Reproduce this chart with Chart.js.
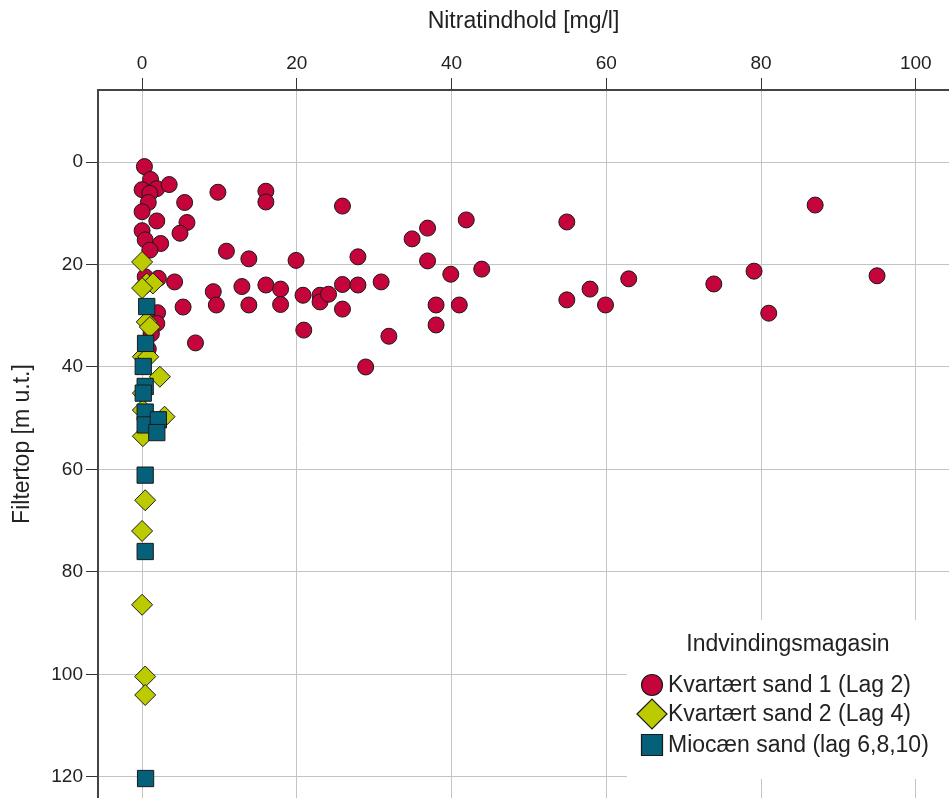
<!DOCTYPE html>
<html>
<head>
<meta charset="utf-8">
<script src="https://cdn.jsdelivr.net/npm/chart.js@4/dist/chart.umd.min.js"></script>
<style>
  html, body { margin: 0; padding: 0; background: #fff; }
  #wrap { width: 949px; height: 798px; }
</style>
</head>
<body>
<div id="wrap"><canvas id="nitratChart" width="949" height="798"></canvas></div>
<script>
// Kvartært sand 1 (Lag 2) - nitrat [mg/l] og filtertop [m u.t.]
const kvartaer1X = [0.3, 1.1, 0, 1.9, 3.5, 1.0, 0.8, 9.8, 16.0, 16.0, 5.5, 25.9, 87.0, 0, 1.9, 5.8,
  41.9, 54.9, 0, 4.9, 36.9, 34.9, 0.4, 2.4, 1.0, 10.9, 13.8, 19.9, 27.9, 36.9, 43.9, 39.9, 79.1,
  95.0, 62.9, 73.9, 2.1, 4.2, 0.4, 9.2, 9.6, 12.9, 13.8, 16.0, 17.9, 17.9, 20.8, 23.0, 23.0, 24.1,
  25.9, 25.9, 27.9, 30.9, 57.9, 54.9, 59.9, 38.0, 41.0, 81.0, 5.3, 2.0, 1.9, 20.9, 31.9, 38.0,
  6.9, 28.9, 0.8, 1.2];
const kvartaer1Y = [0.9, 3.4, 5.4, 5.2, 4.4, 6.1, 7.9, 5.9, 5.7, 7.8, 7.9, 8.6, 8.4, 9.7, 11.5, 11.8,
  11.3, 11.7, 13.4, 13.9, 12.9, 15.0, 15.2, 15.9, 17.2, 17.4, 18.9, 19.2, 18.5, 19.3, 20.9, 21.9, 21.3,
  22.2, 22.8, 23.8, 22.7, 23.4, 22.4, 25.3, 27.9, 24.3, 27.9, 24.0, 24.8, 27.8, 26.0, 26.0, 27.3, 25.8,
  23.9, 28.7, 24.0, 23.4, 24.8, 26.9, 27.9, 27.9, 27.9, 29.5, 28.3, 29.4, 31.5, 32.8, 34.0, 31.8,
  35.3, 40.0, 36.5, 33.5];

// Kvartært sand 2 (Lag 4)
const kvartaer2X = [0, 0.6, 1.4, 0, 0.6, 1.0, 0.1, 0.8, 2.3, 0.1, 0.1, 2.9, 0.1, 0.4, 0, 0, 0.4, 0.4];
const kvartaer2Y = [19.5, 23.7, 23.7, 24.6, 31.2, 32.2, 38.0, 38.0, 41.9, 45.1, 48.4, 49.7, 53.5,
  66.0, 72.0, 86.4, 100.4, 104.0];

// Miocæn sand (lag 6,8,10)
const miocaenX = [0.6, 0.45, 0.15, 0.4, 0.15, 0.4, 0.4, 2.1, 1.9, 0.4, 0.4, 0.45];
const miocaenY = [28.2, 35.4, 39.9, 43.8, 45.1, 48.8, 51.3, 50.3, 52.8, 61.1, 76.0, 120.3];

const seriesNames = ['Kvartært sand 1 (Lag 2)', 'Kvartært sand 2 (Lag 4)', 'Miocæn sand (lag 6,8,10)'];

const FONT = '"Liberation Sans", Arial, sans-serif';
const TEXT = '#222';

function toPoints(xs, ys) {
  return xs.map((x, i) => ({ x: x, y: ys[i] }));
}

const seriesStyle = [
  { pointStyle: 'circle', color: '#c4043a', radius: 8 },
  { pointStyle: 'rectRot', color: '#bccb00', radius: 10.5 },
  { pointStyle: 'rect', color: '#05607a', radius: 11.5 }
];

// legend drawn inside the plot, like the original
const legendBox = {
  id: 'legendBox',
  afterDraw(chart) {
    const ctx = chart.ctx;
    ctx.save();
    ctx.fillStyle = '#fff';
    ctx.fillRect(627, 620, 330, 159);
    ctx.fillStyle = TEXT;
    ctx.font = '23px ' + FONT;
    ctx.textBaseline = 'middle';
    ctx.textAlign = 'center';
    ctx.fillText('Indvindingsmagasin', 788, 645);
    ctx.textAlign = 'left';
    const rows = [685, 714, 745];
    rows.forEach((y, i) => {
      const x = 652;
      ctx.fillStyle = seriesStyle[i].color;
      ctx.strokeStyle = '#1a1a1a';
      ctx.lineWidth = 1.2;
      ctx.beginPath();
      if (i === 0) {
        ctx.arc(x, y, 10.5, 0, Math.PI * 2);
      } else if (i === 1) {
        ctx.moveTo(x - 15, y); ctx.lineTo(x, y - 15); ctx.lineTo(x + 15, y); ctx.lineTo(x, y + 15);
        ctx.closePath();
      } else {
        ctx.rect(x - 10.5, y - 10.5, 21, 21);
      }
      ctx.fill();
      ctx.stroke();
      ctx.fillStyle = TEXT;
      ctx.fillText(seriesNames[i], 668, y + 1);
    });
    ctx.restore();
  }
};

const datasets = [
  { data: toPoints(kvartaer1X, kvartaer1Y), order: 3 },
  { data: toPoints(kvartaer2X, kvartaer2Y), order: 2 },
  { data: toPoints(miocaenX, miocaenY), order: 1 }
].map((d, i) => Object.assign(d, {
  label: seriesNames[i],
  pointStyle: seriesStyle[i].pointStyle,
  pointRadius: seriesStyle[i].radius,
  pointHoverRadius: seriesStyle[i].radius,
  backgroundColor: seriesStyle[i].color,
  borderColor: '#1a1a1a',
  borderWidth: 1
}));

// keep the plot area fixed: no extra room for label overhang
function noPad(scale) {
  scale.paddingTop = 0;
  scale.paddingBottom = 0;
  scale.paddingLeft = 0;
  scale.paddingRight = 0;
}

new Chart(document.getElementById('nitratChart').getContext('2d'), {
  type: 'scatter',
  data: { datasets: datasets },
  options: {
    responsive: false,
    animation: false,
    layout: { padding: 0, autoPadding: false },
    plugins: {
      legend: { display: false },
      tooltip: { enabled: false }
    },
    scales: {
      x: {
        type: 'linear',
        position: 'top',
        min: -5.7,
        max: 104.3,
        afterFit: (scale) => { scale.height = 90; noPad(scale); },
        ticks: {
          stepSize: 20,
          includeBounds: false,
          maxRotation: 0,
          padding: 3,
          color: TEXT,
          font: { family: FONT, size: 19 }
        },
        grid: { color: '#c4c4c4', lineWidth: 1, tickColor: '#333', tickLength: 12 },
        border: { color: '#444', width: 2 },
        title: {
          display: true,
          text: 'Nitratindhold [mg/l]',
          color: TEXT,
          font: { family: FONT, size: 23 },
          padding: { top: 8, bottom: 0 }
        }
      },
      y: {
        type: 'linear',
        reverse: true,
        min: -14.05,
        max: 124.1,
        afterFit: (scale) => { scale.width = 98; noPad(scale); },
        ticks: {
          stepSize: 20,
          includeBounds: false,
          padding: 3,
          color: TEXT,
          font: { family: FONT, size: 19 }
        },
        grid: { color: '#c4c4c4', lineWidth: 1, tickColor: '#333', tickLength: 12 },
        border: { color: '#444', width: 2 },
        title: {
          display: true,
          text: 'Filtertop [m u.t.]',
          color: TEXT,
          font: { family: FONT, size: 23 },
          padding: { top: 9, bottom: 0 }
        }
      }
    }
  },
  plugins: [legendBox]
});
</script>
</body>
</html>
